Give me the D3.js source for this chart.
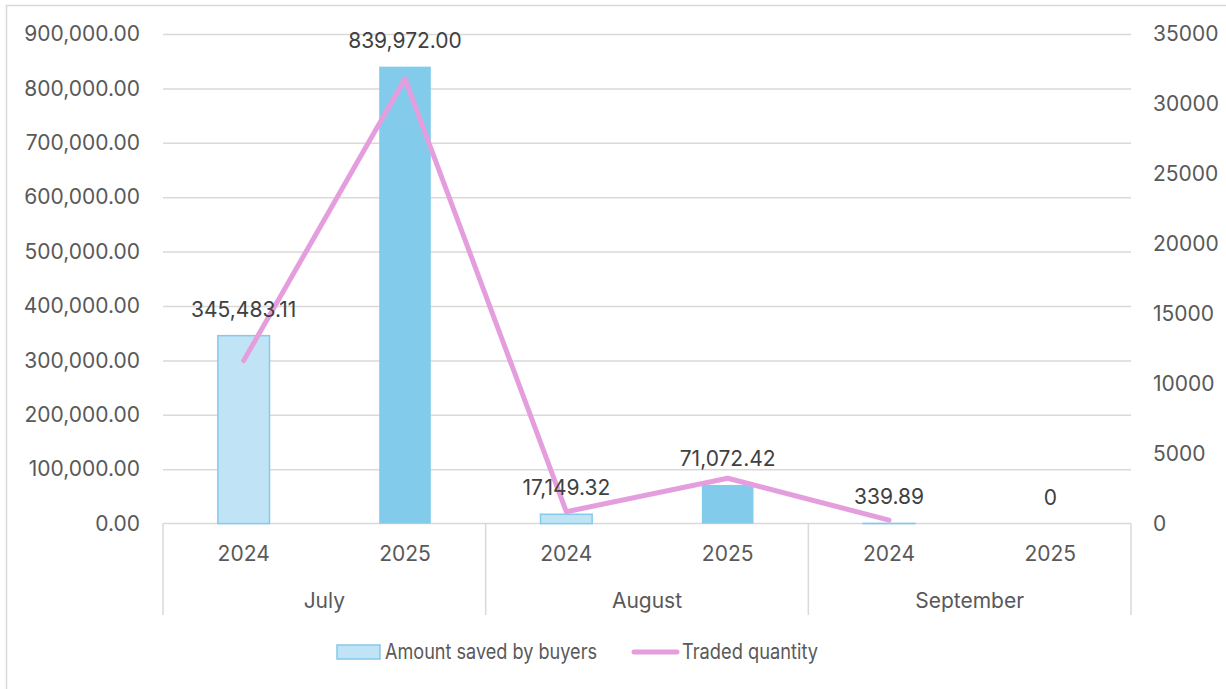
<!DOCTYPE html>
<html>
<head>
<meta charset="utf-8">
<script src="https://cdn.jsdelivr.net/npm/d3@7"></script>
<style>
  body { margin: 0; background: #fff; }
  svg { display: block; font-family: Inter, "Liberation Sans", sans-serif; }
</style>
</head>
<body>
<div id="chart"></div>
<script>
// chart data
const months = ['July', 'August', 'September'];
const years = ['2024', '2025'];
const amounts = [345483.11, 839972.00, 17149.32, 71072.42, 339.89, 0];
const quantities = [11650, 31800, 850, 3240, 250, null];
const leftTicks = [0, 100000, 200000, 300000, 400000, 500000, 600000, 700000, 800000, 900000];
const rightTicks = [0, 5000, 10000, 15000, 20000, 25000, 30000, 35000];

const outerWidth = 1226;
const outerHeight = 689;
const plot = {left: 163, right: 1131, top: 34, bottom: 523.6};
const barLight = '#c0e4f5';
const barDark = '#83cbeb';
const lineColor = '#e59edd';
const axisText = '#595959';
const gridColor = '#d9d9d9';

const cats = [];
months.forEach(m => years.forEach(y => cats.push({month: m, year: y})));
cats.forEach((c, i) => { c.amount = amounts[i]; c.qty = quantities[i]; c.i = i; });

const svg = d3.select('#chart').append('svg')
  .attr('width', outerWidth)
  .attr('height', outerHeight);

// outer chart border
svg.append('rect')
  .attr('x', 6.5).attr('y', 5.5)
  .attr('width', 1240).attr('height', 700)
  .attr('fill', 'none')
  .attr('stroke', gridColor)
  .attr('stroke-width', 1.5);

// scales
const x = d3.scaleBand()
  .domain(cats.map(c => c.i))
  .range([plot.left, plot.right]);

const xMonth = d3.scaleBand()
  .domain(months)
  .range([plot.left, plot.right]);

const yLeft = d3.scaleLinear()
  .domain([0, 900000])
  .range([plot.bottom, plot.top]);

const yRight = d3.scaleLinear()
  .domain([0, 35000])
  .range([plot.bottom, plot.top]);

// gridlines
svg.append('g')
  .attr('transform', `translate(${plot.left},0)`)
  .call(d3.axisLeft(yLeft).tickValues(leftTicks.slice(1)).tickSize(-(plot.right - plot.left)).tickFormat(''))
  .call(g => g.select('.domain').remove())
  .call(g => g.selectAll('line').attr('stroke', gridColor).attr('stroke-width', 1.5));

// left axis labels
svg.append('g')
  .attr('transform', 'translate(140,0)')
  .call(d3.axisLeft(yLeft).tickValues(leftTicks).tickSize(0).tickPadding(0).tickFormat(d3.format(',.2f')))
  .call(g => g.select('.domain').remove())
  .call(g => g.selectAll('text')
    .attr('fill', axisText)
    .style('font-size', '21px')
    .style('font-family', 'Inter, "Liberation Sans", sans-serif'));

// right axis labels
svg.append('g')
  .attr('transform', 'translate(1153,0)')
  .call(d3.axisRight(yRight).tickValues(rightTicks).tickSize(0).tickPadding(0).tickFormat(d3.format('d')))
  .call(g => g.select('.domain').remove())
  .call(g => g.selectAll('text')
    .attr('fill', axisText)
    .style('font-size', '21px')
    .style('font-family', 'Inter, "Liberation Sans", sans-serif'));

// category axis line + group dividers
svg.append('line')
  .attr('x1', plot.left).attr('x2', plot.right)
  .attr('y1', plot.bottom).attr('y2', plot.bottom)
  .attr('stroke', gridColor).attr('stroke-width', 1.5);

const dividers = [plot.left].concat(months.map(m => xMonth(m) + xMonth.bandwidth()));
svg.selectAll('.divider')
  .data(dividers)
  .join('line')
  .attr('class', 'divider')
  .attr('x1', d => d).attr('x2', d => d)
  .attr('y1', plot.bottom).attr('y2', 615)
  .attr('stroke', gridColor).attr('stroke-width', 1.5);

// year labels
svg.selectAll('.year')
  .data(cats)
  .join('text')
  .attr('class', 'year')
  .attr('x', d => x(d.i) + x.bandwidth() / 2)
  .attr('y', 561)
  .attr('text-anchor', 'middle')
  .attr('fill', axisText)
  .style('font-size', '21px')
  .text(d => d.year);

// month labels
svg.selectAll('.month')
  .data(months)
  .join('text')
  .attr('class', 'month')
  .attr('x', d => xMonth(d) + xMonth.bandwidth() / 2)
  .attr('y', 608)
  .attr('text-anchor', 'middle')
  .attr('fill', axisText)
  .style('font-size', '21px')
  .text(d => d);

// bars
const barW = x.bandwidth() * 0.32;
svg.selectAll('.bar')
  .data(cats)
  .join('rect')
  .attr('class', 'bar')
  .attr('x', d => x(d.i) + (x.bandwidth() - barW) / 2)
  .attr('y', d => yLeft(d.amount))
  .attr('width', barW)
  .attr('height', d => plot.bottom - yLeft(d.amount))
  .attr('fill', d => d.year === '2024' ? barLight : barDark)
  .attr('stroke', d => d.year === '2024' && d.amount > 0 ? barDark : 'none')
  .attr('stroke-width', 1.5);

// line
const line = d3.line()
  .defined(d => d.qty !== null)
  .x(d => x(d.i) + x.bandwidth() / 2)
  .y(d => yRight(d.qty));

svg.append('path')
  .datum(cats)
  .attr('d', line)
  .attr('fill', 'none')
  .attr('stroke', lineColor)
  .attr('stroke-width', 5)
  .attr('stroke-linecap', 'round')
  .attr('stroke-linejoin', 'round');

// data labels
svg.selectAll('.dlabel')
  .data(cats)
  .join('text')
  .attr('class', 'dlabel')
  .attr('x', d => x(d.i) + x.bandwidth() / 2)
  .attr('y', d => yLeft(d.amount) - 19)
  .attr('text-anchor', 'middle')
  .attr('fill', '#404040')
  .style('font-size', '21px')
  .text(d => d.amount === 0 ? '0' : d3.format(',.2f')(d.amount));

// legend
const legend = svg.append('g');
legend.append('rect')
  .attr('x', 337).attr('y', 645)
  .attr('width', 43).attr('height', 14)
  .attr('fill', barLight)
  .attr('stroke', barDark)
  .attr('stroke-width', 1.5);
legend.append('text')
  .attr('x', 385).attr('y', 659)
  .attr('fill', axisText)
  .attr('textLength', 212)
  .attr('lengthAdjust', 'spacingAndGlyphs')
  .style('font-size', '21px')
  .text('Amount saved by buyers');
legend.append('line')
  .attr('x1', 634).attr('x2', 677)
  .attr('y1', 652).attr('y2', 652)
  .attr('stroke', lineColor)
  .attr('stroke-width', 5)
  .attr('stroke-linecap', 'round');
legend.append('text')
  .attr('x', 682).attr('y', 659)
  .attr('fill', axisText)
  .attr('textLength', 136)
  .attr('lengthAdjust', 'spacingAndGlyphs')
  .style('font-size', '21px')
  .text('Traded quantity');
</script>
</body>
</html>
